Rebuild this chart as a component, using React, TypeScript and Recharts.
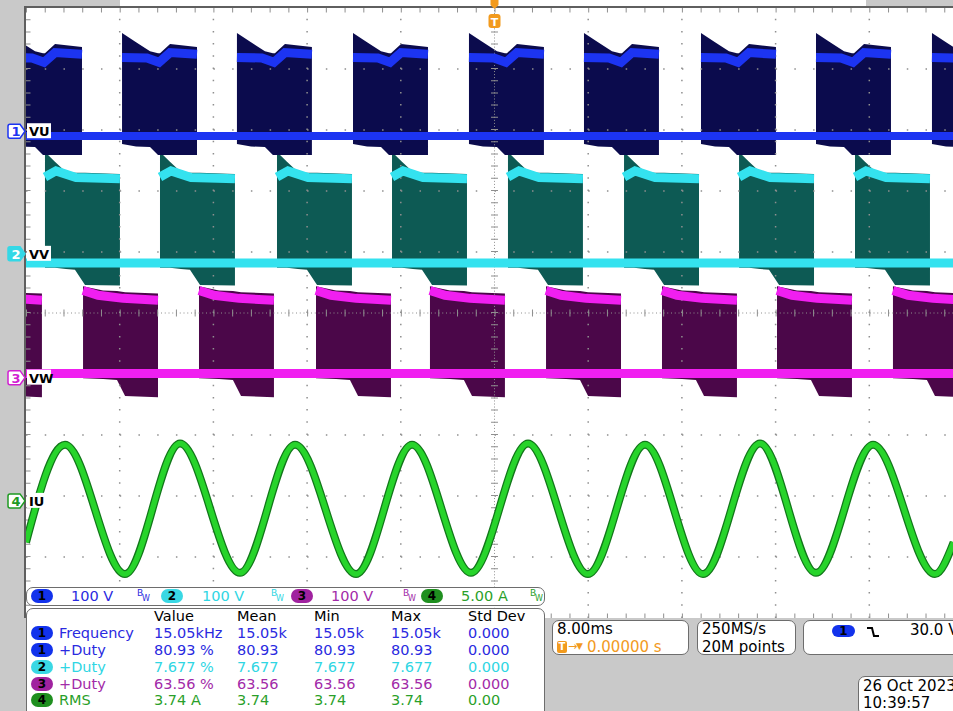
import React from 'react';
import { ComposedChart, Area, Line, XAxis, YAxis, ReferenceLine } from 'recharts';

const FONT = '"DejaVu Sans", Verdana, sans-serif';

// graticule: 8 ms/div, 10 div across; 10 div high
const timeGrid = [8, 16, 24, 32, 48, 56, 64, 72];
const levelGrid = [-4, -3, -2, -1, 1, 2, 3, 4];

// channel position (div), scale (units/div)
const chPosition = [2.98, 0.97, -1.06, -3.08];
const chScale = [100, 100, 100, 5];
const chName = ['VU', 'VV', 'VW', 'IU'];
const chScaleLabel = ['100 V', '100 V', '100 V', '5.00 A'];

// VU bursts: start times (ms) and envelope inside a burst (ms from start, V)
const vuStart = [-1.62, 8.2, 18.01, 27.92, 37.82, 47.64, 57.63, 67.45, 77.35];
const vuFillT = [0, 1.2, 2.39, 3.07, 3.24, 4.1, 6.4];
const vuFillTop = [161, 146, 131, 128, 128, 143, 138];
const vuFillBottom = [-21, -25, -26, -39, -39, -39, -39];
const vuLevelT = [0, 2.13, 3.16, 4.1, 6.4];
const vuLevel = [121, 120, 113, 129, 126];
const vuGround = -8;

// VV
const vvStart = [1.62, 11.44, 21.43, 31.25, 41.15, 51.06, 60.88, 70.78];
const vvFillT = [0, 0.85, 1.79, 2.56, 3.42, 6.4];
const vvFillTop = [167, 151, 134, 133, 133, 131];
const vvFillBottom = [-23, -23, -25, -26, -51, -52];
const vvLevelT = [0, 0.94, 2.65, 6.4];
const vvLevel = [126, 136, 125, 123];
const vvGround = -15;

// VW
const vwStart = [-5.04, 4.87, 14.77, 24.76, 34.49, 44.4, 54.3, 64.12, 74.02];
const vwFillT = [0, 1.71, 2.9, 3.59, 6.4];
const vwFillTop = [150, 143, 142, 140, 138];
const vwFillBottom = [-1, -2, -4, -30, -32];
const vwLevelT = [0, 1.28, 3.42, 6.4];
const vwLevel = [143, 135, 130, 127];
const vwGround = 7;

// IU phase current: peaks / troughs (ms, A)
const iuTime = [0, 3.33, 8.45, 13.15, 18.27, 22.97, 28.18, 32.96, 37.99, 42.86, 47.98, 52.85, 57.8, 62.67, 67.45, 72.32, 77.61, 79.2];
const iuAmps = [-3.4, 4.6, -6.0, 4.7, -5.9, 4.6, -6.0, 4.6, -5.9, 4.7, -6.0, 4.6, -6.0, 4.7, -5.9, 4.6, -6.0, -3.4];

// measurement table
const measHeaders = ['Value', 'Mean', 'Min', 'Max', 'Std Dev'];
const measColX = [154, 237, 314, 391, 468];
const measRowY = [633, 650, 667, 684, 700];
const measSource = [0, 0, 1, 2, 3];
const measName = ['Frequency', '+Duty', '+Duty', '+Duty', 'RMS'];
const measValue = ['15.05kHz', '80.93 %', '7.677 %', '63.56 %', '3.74 A'];
const measMean = ['15.05k', '80.93', '7.677', '63.56', '3.74'];
const measMin = ['15.05k', '80.93', '7.677', '63.56', '3.74'];
const measMax = ['15.05k', '80.93', '7.677', '63.56', '3.74'];
const measStd = ['0.000', '0.000', '0.000', '0.000', '0.00'];

const NAVY = '#0b0b4d';
const BLUE = '#1c34f2';
const TEAL = '#0d5a54';
const CYAN = '#34e2ef';
const PURPLE = '#4b0749';
const MAGENTA = '#f01ff0';
const GREEN_DARK = '#12771a';
const GREEN = '#27d42b';
const ORANGE = '#f29a1d';
const GRID = '#8f8f8f';

const tagColor = ['#1c34f2', '#34d8e6', '#d21ed2', '#1f9a22'];
const textColor = ['#2a2ae0', '#2fd6e3', '#a22aa8', '#2a9f2a'];
const pillColor = ['#1232ec', '#3ad8e4', '#a0229f', '#1f8f1f'];

const toDiv = (ch: number, v: number) => chPosition[ch] + v / chScale[ch];

function burstFills(ch: number, starts: number[], ts: number[], top: number[], bottom: number[]) {
  return starts.map((s) => ts.map((dt, i) => ({ t: s + dt, r: [toDiv(ch, bottom[i]), toDiv(ch, top[i])] })));
}

function burstLevels(ch: number, starts: number[], ts: number[], lv: number[]) {
  return starts.map((s) => ts.map((dt, i) => ({ t: s + dt, v: toDiv(ch, lv[i]) })));
}

const groundLine = (ch: number, v: number) => [
  { t: 0, v: toDiv(ch, v) },
  { t: 80, v: toDiv(ch, v) },
];

const vuFills = burstFills(0, vuStart, vuFillT, vuFillTop, vuFillBottom);
const vuLevels = burstLevels(0, vuStart, vuLevelT, vuLevel);
const vvFills = burstFills(1, vvStart, vvFillT, vvFillTop, vvFillBottom);
const vvLevels = burstLevels(1, vvStart, vvLevelT, vvLevel);
const vwFills = burstFills(2, vwStart, vwFillT, vwFillTop, vwFillBottom);
const vwLevels = burstLevels(2, vwStart, vwLevelT, vwLevel);
const iuData = iuTime.map((t, i) => ({ t, v: toDiv(3, iuAmps[i]) }));

function ChannelTag(props: any) {
  const { viewBox, ch } = props;
  const x = viewBox.x;
  const y = viewBox.y;
  const filled = ch === 1;
  const c = tagColor[ch];
  const d = `M ${x - 16} ${y - 7} H ${x - 6} L ${x - 1} ${y} L ${x - 6} ${y + 7} H ${x - 16} Q ${x - 18} ${y + 7} ${x - 18} ${y + 5} V ${y - 5} Q ${x - 18} ${y - 7} ${x - 16} ${y - 7} Z`;
  return (
    <g>
      <path d={d} fill={filled ? c : '#fff'} stroke={c} strokeWidth={1.5} />
      <text x={x - 10} y={y + 5} textAnchor="middle" fontSize={13} fontWeight="bold" fontFamily={FONT} fill={filled ? '#fff' : c}>
        {ch + 1}
      </text>
      <rect x={x + 1} y={y - 8} width={24} height={15} fill="#fff" />
      <text x={x + 3} y={y + 5} fontSize={13} fontWeight="bold" fontFamily={FONT} fill="#000">
        {chName[ch]}
      </text>
    </g>
  );
}

function TriggerTag(props: any) {
  const { viewBox } = props;
  const x = viewBox.x;
  const y = viewBox.y;
  return (
    <g>
      <path d={`M ${x - 4} ${y - 8} H ${x + 4} V ${y - 3} L ${x} ${y + 1} L ${x - 4} ${y - 3} Z`} fill={ORANGE} />
      <rect x={x - 6} y={y + 6} width={12} height={14} rx={3} fill={ORANGE} />
      <text x={x} y={y + 17.5} textAnchor="middle" fontSize={11} fontWeight="bold" fontFamily={FONT} fill="#fff">
        T
      </text>
    </g>
  );
}

const abs = (left: number, cy: number, color: string, text: string, size = 14.5) => (
  <span
    key={`${left}-${cy}-${text}`}
    style={{ position: 'absolute', left, top: cy - 8, lineHeight: '16px', fontSize: size, color, whiteSpace: 'nowrap' }}
  >
    {text}
  </span>
);

function Pill({ left, cy, ch, w = 22, h = 14 }: { left: number; cy: number; ch: number; w?: number; h?: number }) {
  return (
    <div
      style={{
        position: 'absolute',
        left,
        top: cy - h / 2,
        width: w,
        height: h,
        borderRadius: h / 2,
        background: pillColor[ch],
        color: '#000',
        fontSize: 12,
        fontWeight: 'bold',
        lineHeight: `${h}px`,
        textAlign: 'center',
      }}
    >
      {ch + 1}
    </div>
  );
}

const boxStyle = (left: number, top: number, width: number, height: number): React.CSSProperties => ({
  position: 'absolute',
  left,
  top,
  width,
  height,
  background: '#fff',
  border: '1px solid #6d6d6d',
  borderRadius: 7,
  boxSizing: 'border-box',
});

const barPillX = [31, 161, 291, 421];
const barTextX = [71, 202, 331, 461];
const barBwX = [137, 271, 403, 530];

export default function App() {
  return (
    <div
      style={{
        position: 'fixed',
        left: 0,
        top: 0,
        width: 953,
        height: 711,
        overflow: 'hidden',
        background: '#c9c9c9',
        fontFamily: FONT,
      }}
    >
      <div style={{ position: 'absolute', left: 120, top: 0, width: 746, height: 8, background: '#fff' }} />
      <div style={{ position: 'absolute', left: 26, top: 8, width: 937, height: 610, background: '#fff' }} />
      <div style={{ position: 'absolute', left: 24, top: 6, width: 2, height: 612, background: '#5f5f5f' }} />
      <div style={{ position: 'absolute', left: 24, top: 6, width: 940, height: 2, background: '#5f5f5f' }} />

      <div style={{ position: 'absolute', left: 0, top: 0 }}>
        <ComposedChart width={963} height={618} margin={{ top: 8, right: 0, bottom: 0, left: 26 }}>
          <XAxis type="number" dataKey="t" domain={[0, 80]} allowDataOverflow hide />
          <YAxis type="number" domain={[-5, 5]} allowDataOverflow hide />

          {timeGrid.map((t) => (
            <ReferenceLine key={`gx${t}`} x={t} stroke={GRID} strokeWidth={1.5} strokeDasharray="1.5 10.7" />
          ))}
          {levelGrid.map((v) => (
            <ReferenceLine key={`gy${v}`} y={v} stroke={GRID} strokeWidth={1.5} strokeDasharray="1.5 17.24" />
          ))}
          <ReferenceLine x={40} stroke={GRID} strokeWidth={1} strokeDasharray="1 2.05" />
          <ReferenceLine x={40} stroke={GRID} strokeWidth={7} strokeDasharray="1 11.2" />
          <ReferenceLine y={0} stroke={GRID} strokeWidth={1} strokeDasharray="1 2.75" />
          <ReferenceLine y={0} stroke={GRID} strokeWidth={7} strokeDasharray="1 17.74" />
          <ReferenceLine x={0} stroke={GRID} strokeWidth={9} strokeDasharray="1 11.2" ifOverflow="hidden" />
          <ReferenceLine y={5} stroke={GRID} strokeWidth={9} strokeDasharray="1 17.74" ifOverflow="hidden" />
          <ReferenceLine y={-5} stroke={GRID} strokeWidth={9} strokeDasharray="1 17.74" ifOverflow="hidden" />

          {vwFills.map((d, i) => (
            <Area key={`vwf${i}`} data={d} dataKey="r" type="linear" stroke="none" fill={PURPLE} fillOpacity={1} dot={false} activeDot={false} isAnimationActive={false} />
          ))}
          {vwLevels.map((d, i) => (
            <Line key={`vwl${i}`} data={d} dataKey="v" type="linear" stroke={MAGENTA} strokeWidth={9} dot={false} activeDot={false} isAnimationActive={false} />
          ))}
          <Line data={groundLine(2, vwGround)} dataKey="v" type="linear" stroke={MAGENTA} strokeWidth={9} dot={false} activeDot={false} isAnimationActive={false} />

          {vvFills.map((d, i) => (
            <Area key={`vvf${i}`} data={d} dataKey="r" type="linear" stroke="none" fill={TEAL} fillOpacity={1} dot={false} activeDot={false} isAnimationActive={false} />
          ))}
          {vvLevels.map((d, i) => (
            <Line key={`vvl${i}`} data={d} dataKey="v" type="linear" stroke={CYAN} strokeWidth={9} dot={false} activeDot={false} isAnimationActive={false} />
          ))}
          <Line data={groundLine(1, vvGround)} dataKey="v" type="linear" stroke={CYAN} strokeWidth={9} dot={false} activeDot={false} isAnimationActive={false} />

          {vuFills.map((d, i) => (
            <Area key={`vuf${i}`} data={d} dataKey="r" type="linear" stroke="none" fill={NAVY} fillOpacity={1} dot={false} activeDot={false} isAnimationActive={false} />
          ))}
          {vuLevels.map((d, i) => (
            <Line key={`vul${i}`} data={d} dataKey="v" type="linear" stroke={BLUE} strokeWidth={9} dot={false} activeDot={false} isAnimationActive={false} />
          ))}
          <Line data={groundLine(0, vuGround)} dataKey="v" type="linear" stroke={BLUE} strokeWidth={8} dot={false} activeDot={false} isAnimationActive={false} />

          <Line data={iuData} dataKey="v" type="monotone" stroke={GREEN_DARK} strokeWidth={8} dot={false} activeDot={false} isAnimationActive={false} />
          <Line data={iuData} dataKey="v" type="monotone" stroke={GREEN} strokeWidth={5.5} dot={false} activeDot={false} isAnimationActive={false} />

          {chPosition.map((p, ch) => (
            <ReferenceLine key={`tag${ch}`} y={p} stroke="none" label={<ChannelTag ch={ch} />} />
          ))}
          <ReferenceLine x={40} stroke="none" label={<TriggerTag />} />
        </ComposedChart>
      </div>

      {/* channel scale bar */}
      <div style={boxStyle(26, 587, 519, 19)} />
      {chScaleLabel.map((s, ch) => (
        <React.Fragment key={`bar${ch}`}>
          <Pill left={barPillX[ch]} cy={596} ch={ch} />
          {abs(barTextX[ch], 596, textColor[ch], s)}
          <span style={{ position: 'absolute', left: barBwX[ch], top: 589, fontSize: 9, lineHeight: '9px', color: textColor[ch] }}>B</span>
          <span style={{ position: 'absolute', left: barBwX[ch] + 5, top: 595, fontSize: 8, lineHeight: '8px', color: textColor[ch] }}>W</span>
        </React.Fragment>
      ))}

      {/* measurement table */}
      <div style={boxStyle(26, 608, 519, 110)} />
      {measHeaders.map((h, i) => abs(measColX[i], 616, '#000', h))}
      {measName.map((name, r) => {
        const ch = measSource[r];
        const c = textColor[ch];
        const y = measRowY[r];
        return (
          <React.Fragment key={`row${r}`}>
            <Pill left={31} cy={y} ch={ch} />
            {abs(59, y, c, name)}
            {abs(measColX[0], y, c, measValue[r])}
            {abs(measColX[1], y, c, measMean[r])}
            {abs(measColX[2], y, c, measMin[r])}
            {abs(measColX[3], y, c, measMax[r])}
            {abs(measColX[4], y, c, measStd[r])}
          </React.Fragment>
        );
      })}

      {/* horizontal settings */}
      <div style={boxStyle(552, 620, 137, 35)} />
      {abs(557, 629, '#000', '8.00ms', 15)}
      <div style={{ position: 'absolute', left: 557, top: 641, width: 10, height: 12, background: ORANGE, borderRadius: 2, color: '#fff', fontSize: 10, fontWeight: 'bold', lineHeight: '12px', textAlign: 'center' }}>T</div>
      {abs(568, 647, ORANGE, '→', 11)}
      {abs(576, 646, ORANGE, '▼', 9)}
      {abs(587, 647, ORANGE, '0.00000 s', 15)}

      <div style={boxStyle(697, 620, 99, 35)} />
      {abs(702, 629, '#000', '250MS/s', 15)}
      {abs(702, 647, '#000', '20M points', 15)}

      {/* trigger */}
      <div style={boxStyle(803, 620, 170, 35)} />
      <Pill left={832} cy={631} ch={0} w={23} h={12} />
      <svg style={{ position: 'absolute', left: 866, top: 626 }} width={14} height={12}>
        <polyline points="1,2 6,2 8,10 13,10" fill="none" stroke="#000" strokeWidth={2} />
      </svg>
      {abs(910, 630, '#000', '30.0 V', 15)}

      <div style={boxStyle(858, 676, 120, 40)} />
      {abs(863, 686, '#000', '26 Oct  2023', 15)}
      {abs(863, 703, '#000', '10:39:57', 15)}
    </div>
  );
}
